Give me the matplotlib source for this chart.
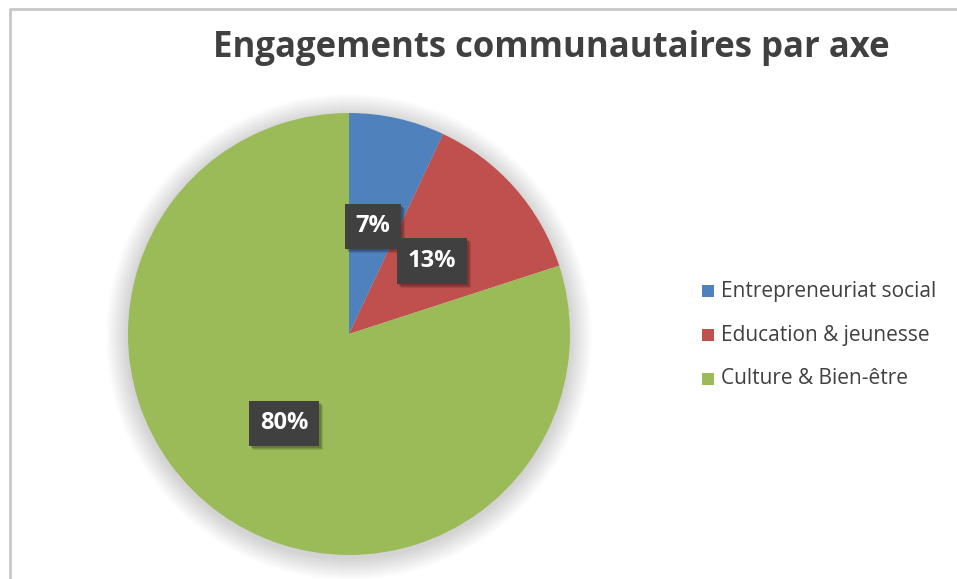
import matplotlib
matplotlib.use("Agg")
import matplotlib.pyplot as plt
from matplotlib.patches import Circle, Rectangle
import numpy as np

plt.rcParams['font.family'] = ['Open Sans', 'DejaVu Sans']

title = "Engagements communautaires par axe"
categories = ["Entrepreneuriat social", "Education & jeunesse", "Culture & Bien-être"]
values = [7, 13, 80]
colors = ["#4F81BD", "#C0504D", "#9BBB59"]

W, H = 957, 579
fig = plt.figure(figsize=(W / 100, H / 100), dpi=100)
ax = fig.add_axes([0, 0, 1, 1])

# chart frame (top and left edges)
ax.plot([9.5, 9.5, W], [0, H - 8.5, H - 8.5], color="#C8C8C8", lw=2, solid_capstyle="butt")

cx, cy, r = 349, H - 334, 221

# soft glow behind the pie
for i in range(22, 0, -1):
    ax.add_patch(Circle((cx, cy - 3), r + i, color="black", alpha=0.008, lw=0, zorder=1))

ax.pie(values, colors=colors, startangle=90, counterclock=False,
       center=(cx, cy), radius=r, frame=True,
       wedgeprops=dict(linewidth=0, zorder=2))
ax.set_xlim(0, W)
ax.set_ylim(0, H)
ax.set_aspect("auto")
ax.axis("off")

# percentage labels in dark boxes
total = sum(values)
labels = []
start = 90.0
for v in values:
    ang = start - 360 * v / total / 2
    start -= 360 * v / total
    x = cx + 0.5 * r * np.cos(np.radians(ang))
    y = cy + 0.5 * r * np.sin(np.radians(ang))
    txt = f"{round(100 * v / total)}%"
    t = ax.text(x, y, txt, ha="center", va="center", fontsize=17, fontweight="bold",
                color="white", zorder=5,
                bbox=dict(boxstyle="square,pad=0.45", fc="#404040", ec="none"))
    labels.append(t)

# drop shadow under each label box
fig.canvas.draw()
inv = ax.transData.inverted()
for t in labels:
    bb = t.get_bbox_patch().get_window_extent()
    (x0, y0), (x1, y1) = inv.transform([[bb.x0, bb.y0], [bb.x1, bb.y1]])
    for k, a in [(4, 0.10), (3, 0.12), (2, 0.15)]:
        ax.add_patch(Rectangle((x0 + k, y0 - k), x1 - x0, y1 - y0, color="black",
                               alpha=a, lw=0, zorder=4))

ax.text(551, H - 48, title, ha="center", va="center", fontsize=25,
        fontweight="bold", color="#404040")

# legend
for i, (lab, c) in enumerate(zip(categories, colors)):
    y = H - (291 + 44 * i)
    ax.add_patch(Rectangle((702, y - 6), 12, 12, color=c, lw=0))
    ax.text(721, y, lab, ha="left", va="center", fontsize=15, color="#404040")

fig.savefig("out.png", dpi=100)
